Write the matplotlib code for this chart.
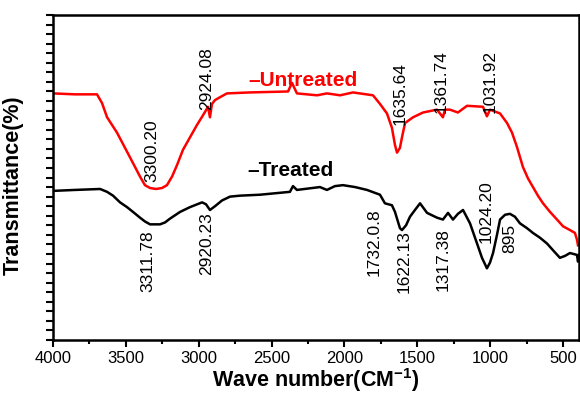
import numpy as np
import matplotlib.pyplot as plt
from matplotlib.ticker import MultipleLocator, NullFormatter

plt.rcParams['font.family'] = ['Liberation Sans', 'DejaVu Sans']
plt.rcParams['mathtext.fontset'] = 'custom'
plt.rcParams['mathtext.rm'] = 'Liberation Sans'
plt.rcParams['mathtext.bf'] = 'Liberation Sans:bold'

# untreated spectrum (red)
untreated_x = [4000, 3849, 3698, 3664, 3629, 3561, 3492, 3437, 3403, 3369, 3334, 3293,
               3252, 3218, 3183, 3149, 3108, 3060, 3012, 2971, 2936, 2923, 2909, 2888,
               2854, 2806, 2648, 2387, 2360, 2326, 2188, 2120, 2030, 1941, 1804, 1756,
               1708, 1674, 1653, 1639, 1619, 1605, 1584, 1529, 1461, 1365, 1324, 1310,
               1276, 1221, 1159, 1049, 1022, 1001, 932, 884, 850, 816, 775, 740,
               706, 672, 637, 589, 541, 500, 452, 418, 404, 397]
untreated_y = [25.8, 25.7, 25.7, 24.8, 23.3, 21.7, 19.7, 18.1, 17.1, 16.2, 15.9, 15.8,
               15.9, 16.2, 17.1, 18.3, 19.9, 21.2, 22.5, 23.5, 24.4, 23.3, 24.7, 25.1,
               25.4, 25.8, 25.9, 26.0, 26.9, 25.8, 25.6, 25.8, 25.6, 25.9, 25.6, 24.7,
               23.7, 22.2, 20.4, 19.6, 20.1, 21.2, 22.7, 23.3, 23.8, 24.1, 23.3, 24.1,
               24.1, 23.8, 24.5, 24.4, 23.4, 24.1, 23.7, 22.7, 21.7, 20.2, 18.1, 16.9,
               16.0, 15.1, 14.3, 13.4, 12.6, 11.9, 11.5, 11.2, 10.5, 9.9]

# treated spectrum (black)
treated_x = [4000, 3849, 3677, 3629, 3588, 3540, 3492, 3451, 3403, 3369, 3334, 3266,
             3231, 3197, 3128, 3060, 2977, 2950, 2923, 2888, 2840, 2785, 2717, 2579,
             2374, 2353, 2326, 2168, 2120, 2065, 2010, 1927, 1845, 1756, 1722, 1674,
             1653, 1619, 1605, 1577, 1550, 1516, 1481, 1433, 1365, 1324, 1289, 1255,
             1221, 1186, 1138, 1090, 1056, 1022, 1001, 980, 953, 932, 898, 864,
             830, 795, 747, 706, 658, 610, 569, 521, 486, 452, 404, 397, 390]
treated_y = [15.6, 15.7, 15.8, 15.5, 15.1, 14.4, 13.9, 13.4, 12.8, 12.4, 12.1, 12.1,
             12.3, 12.7, 13.4, 13.9, 14.4, 14.2, 13.6, 14.0, 14.6, 15.0, 15.1, 15.2,
             15.5, 16.1, 15.7, 16.0, 15.7, 16.1, 16.2, 16.0, 15.7, 15.2, 14.3, 14.1,
             13.4, 11.7, 11.5, 12.0, 12.9, 13.6, 14.3, 13.3, 12.8, 12.6, 13.3, 12.6,
             13.2, 13.6, 12.2, 10.1, 8.6, 7.5, 8.1, 9.1, 11.0, 12.6, 13.1, 13.2,
             12.9, 12.2, 11.7, 11.2, 10.7, 10.1, 9.4, 8.6, 8.8, 9.1, 8.9, 8.2, 8.9]

# peak annotations
red_peaks = ['3300.20', '2924.08', '1635.64', '1361.74', '1031.92']
red_peak_x = [3321, 2943, 1619, 1338, 1001]
red_peak_y = [16.5, 24.1, 22.5, 23.7, 23.7]

black_peaks = ['3311.78', '2920.23', '1732.0.8', '1622.13', '1317.38', '1024.20', '895']
black_peak_x = [3348, 2943, 1797, 1591, 1324, 1029, 864]
black_peak_y = [11.5, 13.4, 13.8, 11.5, 11.7, 10.1, 12.2]
black_peak_va = ['top', 'top', 'top', 'top', 'top', 'bottom', 'top']

fig = plt.figure(figsize=(5.8, 3.96), dpi=100)
ax = fig.add_axes([0.0914, 0.1414, 0.9069, 0.8207])

ax.plot(untreated_x, untreated_y, color='#ff0000', lw=1.8)
ax.plot(treated_x, treated_y, color='black', lw=1.8)

for t, x, y in zip(red_peaks, red_peak_x, red_peak_y):
    ax.text(x, y, t, rotation=90, ha='center', va='bottom', fontsize=12.5)
for t, x, y, va in zip(black_peaks, black_peak_x, black_peak_y, black_peak_va):
    ax.text(x, y, t, rotation=90, ha='center', va=va, fontsize=12.5)

ax.text(2662, 27.1, '\u2013Untreated', color='#ff0000', fontsize=15, fontweight='bold',
        ha='left', va='center')
ax.text(2669, 17.7, '\u2013Treated', color='black', fontsize=15, fontweight='bold',
        ha='left', va='center')

ax.set_xlim(4000, 390)
ax.set_ylim(0, 34)
ax.xaxis.set_major_locator(MultipleLocator(500))
ax.xaxis.set_minor_locator(MultipleLocator(250))
ax.yaxis.set_major_locator(MultipleLocator(1))
ax.yaxis.set_major_formatter(NullFormatter())
ax.tick_params(axis='x', which='major', direction='out', length=5, width=1.5,
               labelsize=12, pad=3)
ax.tick_params(axis='x', which='minor', direction='out', length=3, width=1.5)
ax.tick_params(axis='y', which='major', direction='out', length=5, width=1.5)
for s in ax.spines.values():
    s.set_linewidth(1.8)

ax.set_xlabel(r'Wave number(CM$^{\mathbf{-1}}$)', fontsize=15.5, fontweight='bold', labelpad=0)
ax.set_ylabel('Transmittance(%)', fontsize=15.5, fontweight='bold')
ax.yaxis.set_label_coords(-0.055, 0.477)

fig.savefig('out.png', dpi=100)
